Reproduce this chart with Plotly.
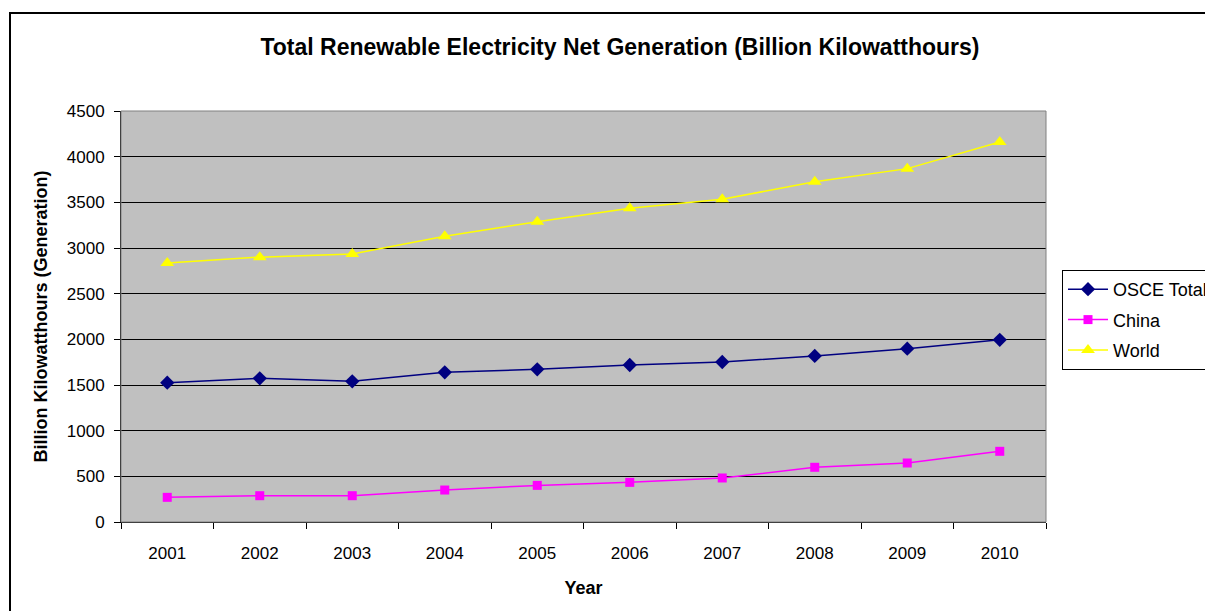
import plotly.graph_objects as go

years = ["2001", "2002", "2003", "2004", "2005", "2006", "2007", "2008", "2009", "2010"]
osce_total = [1525, 1573, 1540, 1639, 1672, 1719, 1752, 1818, 1898, 1995]
china = [270, 288, 288, 350, 401, 434, 482, 599, 646, 774]
world = [2835, 2900, 2935, 3128, 3288, 3434, 3533, 3726, 3869, 4161]

FONT = "Liberation Sans, Arial, sans-serif"

OFF = 8  # page body margin
W, H = 1213 - OFF, 611 - OFF
L, R, T, B = 121, 1046, 111, 522  # plot area in page pixels

fig = go.Figure()
fig.add_trace(go.Scatter(
    x=years, y=osce_total, name="OSCE Total", mode="lines+markers",
    line=dict(color="#000080", width=1.5),
    marker=dict(symbol="diamond", size=11, color="#000080"),
    legendgroup="a"))
fig.add_trace(go.Scatter(
    x=years, y=china, name="China", mode="lines+markers",
    line=dict(color="#FF00FF", width=1.5),
    marker=dict(symbol="square", size=9, color="#FF00FF"),
    legendgroup="b"))
fig.add_trace(go.Scatter(
    x=years, y=world, name="World", mode="lines+markers",
    line=dict(color="#FFFF00", width=1.5),
    marker=dict(symbol="triangle-up", size=12, color="#FFFF00"),
    legendgroup="c"))

pw = R - L
ph = B - T
def px(x):
    return (x - L) / pw
def py(y):
    return (B - y) / ph

fig.update_layout(
    width=W, height=H,
    margin=dict(l=L - OFF, r=W - (R - OFF), t=T - OFF, b=H - (B - OFF), autoexpand=False),
    paper_bgcolor="white",
    plot_bgcolor="#C0C0C0",
    font=dict(family=FONT, size=17, color="black"),
    title=dict(text="<b>Total Renewable Electricity Net Generation (Billion Kilowatthours)</b>",
               x=px(620), xref="paper", xanchor="center", y=1 - (47 - OFF) / H, yanchor="middle",
               font=dict(size=23, family=FONT)),
    showlegend=True,
    legend=dict(x=px(1062), xanchor="left", y=py(270), yanchor="top",
                bgcolor="white", bordercolor="black", borderwidth=1,
                font=dict(size=18, family=FONT), tracegroupgap=4,
                itemwidth=40, traceorder="grouped"),
    xaxis=dict(
        type="category", tickson="boundaries", range=[-0.5, 9.5],
        ticks="outside", ticklen=6, tickcolor="black",
        showline=True, linecolor="black", linewidth=1, mirror=False,
        showgrid=False, zeroline=False, ticklabelstandoff=16,
        tickfont=dict(size=17, family=FONT),
        title=dict(text="<b>Year</b>", font=dict(size=18, family=FONT), standoff=18),
    ),
    yaxis=dict(
        range=[0, 4500], tickvals=[0, 500, 1000, 1500, 2000, 2500, 3000, 3500, 4000, 4500],
        ticks="outside", ticklen=6, tickcolor="black",
        showline=True, linecolor="black", linewidth=1,
        showgrid=True, gridcolor="black", gridwidth=1, zeroline=False,
        ticklabelstandoff=6,
        tickfont=dict(size=17, family=FONT),
        title=dict(text="<b>Billion Kilowatthours (Generation)</b>", font=dict(size=18, family=FONT), standoff=14),
    ),
    shapes=[
        dict(type="rect", xref="paper", yref="paper", x0=0, x1=1, y0=0, y1=1,
             line=dict(color="#808080", width=1), fillcolor="rgba(0,0,0,0)", layer="above"),
        dict(type="path", xref="paper", yref="paper",
             path=f"M {px(10)} {py(611)} L {px(10)} {py(13)} L {px(1213)} {py(13)}",
             line=dict(color="black", width=2)),
    ],
)

fig.write_html("out.html")
